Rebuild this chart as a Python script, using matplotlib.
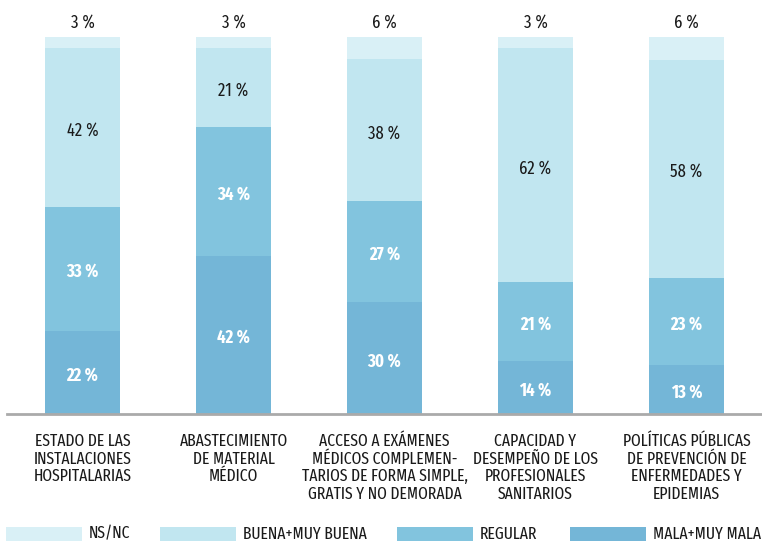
import matplotlib
matplotlib.use("Agg")
import matplotlib.pyplot as plt
from matplotlib.patches import Rectangle
import numpy as np

plt.rcParams['font.family'] = ['Fira Sans Extra Condensed', 'Fira Sans Condensed', 'DejaVu Sans']

categories = [
    "ESTADO DE LAS\nINSTALACIONES\nHOSPITALARIAS",
    "ABASTECIMIENTO\nDE MATERIAL\nMÉDICO",
    "ACCESO A EXÁMENES\nMÉDICOS COMPLEMEN-\nTARIOS DE FORMA SIMPLE,\nGRATIS Y NO DEMORADA",
    "CAPACIDAD Y\nDESEMPEÑO DE LOS\nPROFESIONALES\nSANITARIOS",
    "POLÍTICAS PÚBLICAS\nDE PREVENCIÓN DE\nENFERMEDADES Y\nEPIDEMIAS",
]
mala = [22, 42, 30, 14, 13]
regular = [33, 34, 27, 21, 23]
buena = [42, 21, 38, 62, 58]
nsnc = [3, 3, 6, 3, 6]

series_names = ["MALA+MUY MALA", "REGULAR", "BUENA+MUY BUENA", "NS/NC"]
series_vals = [mala, regular, buena, nsnc]
colors = ["#74b6d7", "#82c4de", "#c1e6f0", "#d9f0f6"]
label_colors = ["white", "white", "#1a1a1a", None]

FS = 12.2
FSN = 13
W, H = 762, 545
fig = plt.figure(figsize=(W / 100, H / 100), dpi=100)
ax = fig.add_axes([7 / W, (H - 414) / H, (W - 7) / W, (414 - 37) / H])

x = np.arange(len(categories))
data = np.array(series_vals, dtype=float)
totals = data.sum(axis=0)
norm = data / totals * 100

bottom = np.zeros(len(categories))
for i, (name, vals) in enumerate(zip(series_names, norm)):
    ax.bar(x, vals, 0.5, bottom=bottom, color=colors[i], linewidth=0, label=name)
    for j in range(len(x)):
        if label_colors[i] is not None:
            ax.text(x[j], bottom[j] + vals[j] / 2 - 0.8, f"{int(data[i][j])} %",
                    ha="center", va="center", fontsize=FSN,
                    color=label_colors[i],
                    fontweight=700 if label_colors[i] == "white" else 400)
        else:
            ax.text(x[j], 100 + 1.5, f"{int(data[i][j])} %", ha="center",
                    va="bottom", fontsize=FSN, color="#1a1a1a", fontweight=400,
                    clip_on=False)
    bottom += vals

ax.set_xlim(-0.5, len(categories) - 0.5)
ax.set_ylim(0, 100)
for s in ["top", "right", "left"]:
    ax.spines[s].set_visible(False)
ax.spines["bottom"].set_color("#aaaaaa")
ax.spines["bottom"].set_linewidth(2)
ax.set_yticks([])
ax.set_xticks(x)
ax.set_xticklabels(categories, fontsize=FS, color="#1a1a1a", linespacing=1.13,
                   fontweight=400)
ax.tick_params(axis="x", length=0, pad=14)

# legend
leg_order = [3, 2, 1, 0]
patch_x = [6, 160, 397, 570]
for k, idx in enumerate(leg_order):
    px = patch_x[k]
    fig.patches.append(Rectangle((px / W, (H - 541) / H), 76 / W, 14 / H,
                                 transform=fig.transFigure, color=colors[idx],
                                 linewidth=0))
    fig.text((px + 83) / W, (H - 534) / H, series_names[idx], fontsize=FS,
             color="#1a1a1a", va="center", ha="left", fontweight=400)

fig.savefig("out.png", dpi=100)
